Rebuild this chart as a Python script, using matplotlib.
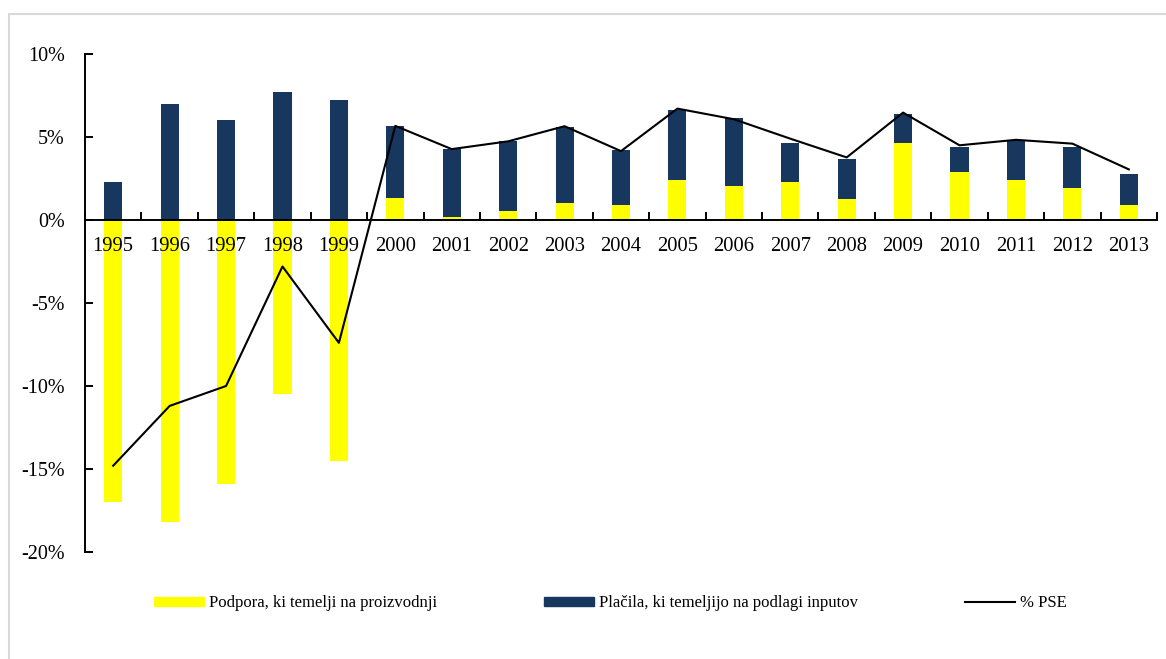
import numpy as np
import matplotlib
matplotlib.use('Agg')
import matplotlib.pyplot as plt
from matplotlib.patches import Rectangle
from matplotlib.lines import Line2D

years = ['1995', '1996', '1997', '1998', '1999', '2000', '2001', '2002', '2003', '2004',
         '2005', '2006', '2007', '2008', '2009', '2010', '2011', '2012', '2013']

# Podpora, ki temelji na proizvodnji (%)
production = [-17.0, -18.2, -15.9, -10.5, -14.5, 1.34, 0.18, 0.54, 1.0, 0.88,
              2.42, 2.06, 2.3, 1.24, 4.65, 2.88, 2.42, 1.94, 0.88]
# Plačila, ki temeljijo na podlagi inputov (%)
inputs = [2.28, 7.0, 6.05, 7.71, 7.23, 4.35, 4.09, 4.22, 4.6, 3.31,
          4.23, 4.11, 2.35, 2.46, 1.76, 1.53, 2.38, 2.47, 1.88]
# % PSE
pse = [-14.8, -11.2, -10.0, -2.8, -7.4, 5.67, 4.27, 4.74, 5.65, 4.15,
       6.71, 6.07, 4.9, 3.77, 6.47, 4.5, 4.83, 4.6, 3.05]

yticks = [-20, -15, -10, -5, 0, 5, 10]

label_prod = 'Podpora, ki temelji na proizvodnji'
label_inp = 'Plačila, ki temeljijo na podlagi inputov'
label_pse = '% PSE'

yellow = '#FFFF00'
navy = '#17375E'

plt.rcParams['font.family'] = ['Liberation Serif', 'DejaVu Serif']
plt.rcParams['axes.unicode_minus'] = False

fig = plt.figure(figsize=(11.66, 6.59), dpi=100)
ax = fig.add_axes([85 / 1166, 1 - 552 / 659, (1157 - 85) / 1166, (552 - 54) / 659])

x = np.arange(len(years))
bottoms = [max(p, 0) for p in production]
ax.bar(x, production, width=0.32, color=yellow, zorder=1)
ax.bar(x, inputs, width=0.32, bottom=bottoms, color=navy, zorder=1)
ax.plot(x, pse, color='black', lw=1.5, zorder=3)

ax.set_xlim(-0.5, len(years) - 0.5)
ax.set_ylim(-20, 10)

ax.spines['top'].set_visible(False)
ax.spines['right'].set_visible(False)
ax.spines['bottom'].set_position(('data', 0))
ax.spines['bottom'].set_linewidth(1.4)
ax.spines['left'].set_linewidth(1.4)

ax.set_yticks(yticks)
ax.set_yticklabels(['{}%'.format(v) for v in yticks])
ax.tick_params(axis='y', direction='in', length=6, width=1.4, pad=14.5, labelsize=14.5)

ax.set_xticks(x)
ax.set_xticklabels(years)
ax.tick_params(axis='x', which='major', length=0, pad=12.5, labelsize=14.8)
ax.set_xticks(np.arange(len(years) + 1) - 0.5, minor=True)
ax.tick_params(axis='x', which='minor', direction='in', length=6, width=1.4)

handles = [Rectangle((0, 0), 1, 1, color=yellow),
           Rectangle((0, 0), 1, 1, color=navy),
           Line2D([0], [0], color='black', lw=1.5)]
fig.legend(handles, [label_prod, label_inp, label_pse], loc='center',
           bbox_to_anchor=(0.5235, 1 - 603 / 659), ncol=3, frameon=False,
           fontsize=12, handlelength=3.0, handleheight=0.45, handletextpad=0.3,
           columnspacing=6.4)

# light grey frame of the chart area
fig.patches.append(Rectangle((9 / 1166, -0.1), 1.2, 0.1 + 1 - 14 / 659,
                             transform=fig.transFigure, fill=False,
                             edgecolor='#d9d9d9', lw=1.5))

fig.savefig('out.png', dpi=100)
